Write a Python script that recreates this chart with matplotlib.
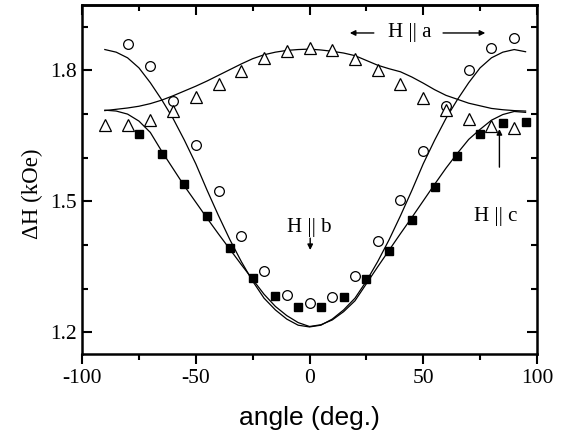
import matplotlib
matplotlib.use("Agg")
import matplotlib.pyplot as plt
from matplotlib.ticker import MultipleLocator

# measured points
circ_angle = [-80, -70, -60, -50, -40, -30, -20, -10, 0, 10, 20, 30, 40, 50, 60, 70, 80, 90]
circ_dh = [1.861, 1.811, 1.731, 1.630, 1.524, 1.420, 1.340, 1.285, 1.266, 1.280,
           1.329, 1.408, 1.502, 1.615, 1.718, 1.800, 1.852, 1.874]

sq_angle = [-75, -65, -55, -45, -35, -25, -15, -5, 5, 15, 25, 35, 45, 55, 65, 75, 85, 95]
sq_dh = [1.655, 1.608, 1.540, 1.466, 1.392, 1.325, 1.282, 1.257, 1.257, 1.280,
         1.322, 1.385, 1.458, 1.533, 1.605, 1.655, 1.680, 1.683]

tri_angle = [-90, -80, -70, -60, -50, -40, -30, -20, -10, 0, 10, 20, 30, 40, 50, 60, 70, 80, 90]
tri_dh = [1.674, 1.674, 1.687, 1.708, 1.740, 1.768, 1.798, 1.828, 1.845, 1.851,
          1.847, 1.827, 1.800, 1.768, 1.737, 1.710, 1.689, 1.673, 1.669]

fit_angle = list(range(-90, 96, 5))
fit_circ = [1.848, 1.842, 1.829, 1.806, 1.772, 1.733, 1.690, 1.640, 1.586, 1.525,
            1.467, 1.412, 1.362, 1.317, 1.278, 1.251, 1.230, 1.216, 1.212, 1.216,
            1.230, 1.251, 1.278, 1.317, 1.362, 1.412, 1.467, 1.525, 1.586, 1.640,
            1.690, 1.733, 1.772, 1.806, 1.829, 1.842, 1.848, 1.843]
fit_sq = [1.709, 1.707, 1.700, 1.684, 1.658, 1.615, 1.575, 1.535, 1.498, 1.461,
          1.425, 1.390, 1.355, 1.321, 1.287, 1.259, 1.238, 1.222, 1.213, 1.217,
          1.228, 1.247, 1.272, 1.311, 1.350, 1.388, 1.426, 1.463, 1.501, 1.539,
          1.576, 1.610, 1.642, 1.665, 1.686, 1.699, 1.706, 1.704]
fit_tri = [1.708, 1.711, 1.714, 1.718, 1.724, 1.732, 1.742, 1.753, 1.764, 1.776,
           1.789, 1.802, 1.815, 1.827, 1.836, 1.842, 1.846, 1.848, 1.849, 1.847,
           1.844, 1.840, 1.834, 1.823, 1.812, 1.804, 1.797, 1.785, 1.771, 1.756,
           1.743, 1.734, 1.725, 1.719, 1.713, 1.710, 1.708, 1.707]

serif = ["Liberation Serif", "DejaVu Serif"]

fig = plt.figure(figsize=(5.7, 4.4), dpi=100)
ax = fig.add_axes([0.144, 0.1955, 0.798, 0.793])

for ys in (fit_circ, fit_sq, fit_tri):
    ax.plot(fit_angle, ys, color="black", linewidth=0.9)

ax.plot(circ_angle, circ_dh, linestyle="none", marker="o", markersize=7,
        markerfacecolor="white", markeredgecolor="black", markeredgewidth=0.9)
ax.plot(sq_angle, sq_dh, linestyle="none", marker="s", markersize=6,
        markerfacecolor="black", markeredgecolor="black")
ax.plot(tri_angle, tri_dh, linestyle="none", marker="^", markersize=8,
        markerfacecolor="white", markeredgecolor="black", markeredgewidth=0.9)

ax.set_xlim(-100, 100)
ax.set_ylim(1.15, 1.95)
ax.xaxis.set_minor_locator(MultipleLocator(25))
ax.yaxis.set_minor_locator(MultipleLocator(0.1))
ax.set_xticks([-100, -50, 0, 50, 100])
ax.set_xticklabels(["-100", "-50", "0", "50", "100"], family=serif, fontsize=15.5)
ax.set_yticks([1.2, 1.5, 1.8])
ax.set_yticklabels(["1.2", "1.5", "1.8"], family=serif, fontsize=15.5)

ax.tick_params(axis="x", which="both", direction="out", top=False, width=1.5)
ax.tick_params(axis="y", which="both", direction="in", right=True, width=1.5)
ax.tick_params(which="major", length=7)
ax.tick_params(which="minor", length=4.5)

# inward ticks along the top edge
sec = ax.secondary_xaxis("top")
sec.xaxis.set_major_locator(MultipleLocator(50))
sec.xaxis.set_minor_locator(MultipleLocator(25))
sec.tick_params(which="both", direction="in", labeltop=False, width=1.5)
sec.tick_params(which="major", length=7)
sec.tick_params(which="minor", length=4.5)
sec.spines["top"].set_linewidth(1.8)

for s in ax.spines.values():
    s.set_linewidth(1.8)

ax.set_xlabel("angle (deg.)", family=["Liberation Sans", "DejaVu Sans"], fontsize=19)
ax.xaxis.set_label_coords(0.5, -0.15)
ax.set_ylabel("\u0394H (kOe)", family=serif, fontsize=16.5)
ax.yaxis.set_label_coords(-0.085, 0.46)

# annotations
ax.text(44, 1.886, "H || a", family=serif, fontsize=15, ha="center", va="center")
ax.annotate("", xy=(16.5, 1.886), xytext=(29.5, 1.886),
            arrowprops=dict(arrowstyle="-|>", color="black", lw=1, mutation_scale=8))
ax.annotate("", xy=(78.5, 1.886), xytext=(57.5, 1.886),
            arrowprops=dict(arrowstyle="-|>", color="black", lw=1, mutation_scale=8))

ax.text(0, 1.440, "H || b", family=serif, fontsize=15, ha="center", va="center")
ax.annotate("", xy=(0.3, 1.382), xytext=(0.3, 1.422),
            arrowprops=dict(arrowstyle="-|>", color="black", lw=1, mutation_scale=8))

ax.text(82, 1.466, "H || c", family=serif, fontsize=15, ha="center", va="center")
ax.annotate("", xy=(83.5, 1.672), xytext=(83.5, 1.572),
            arrowprops=dict(arrowstyle="-|>", color="black", lw=1, mutation_scale=8))

fig.savefig("out.png", dpi=100)
